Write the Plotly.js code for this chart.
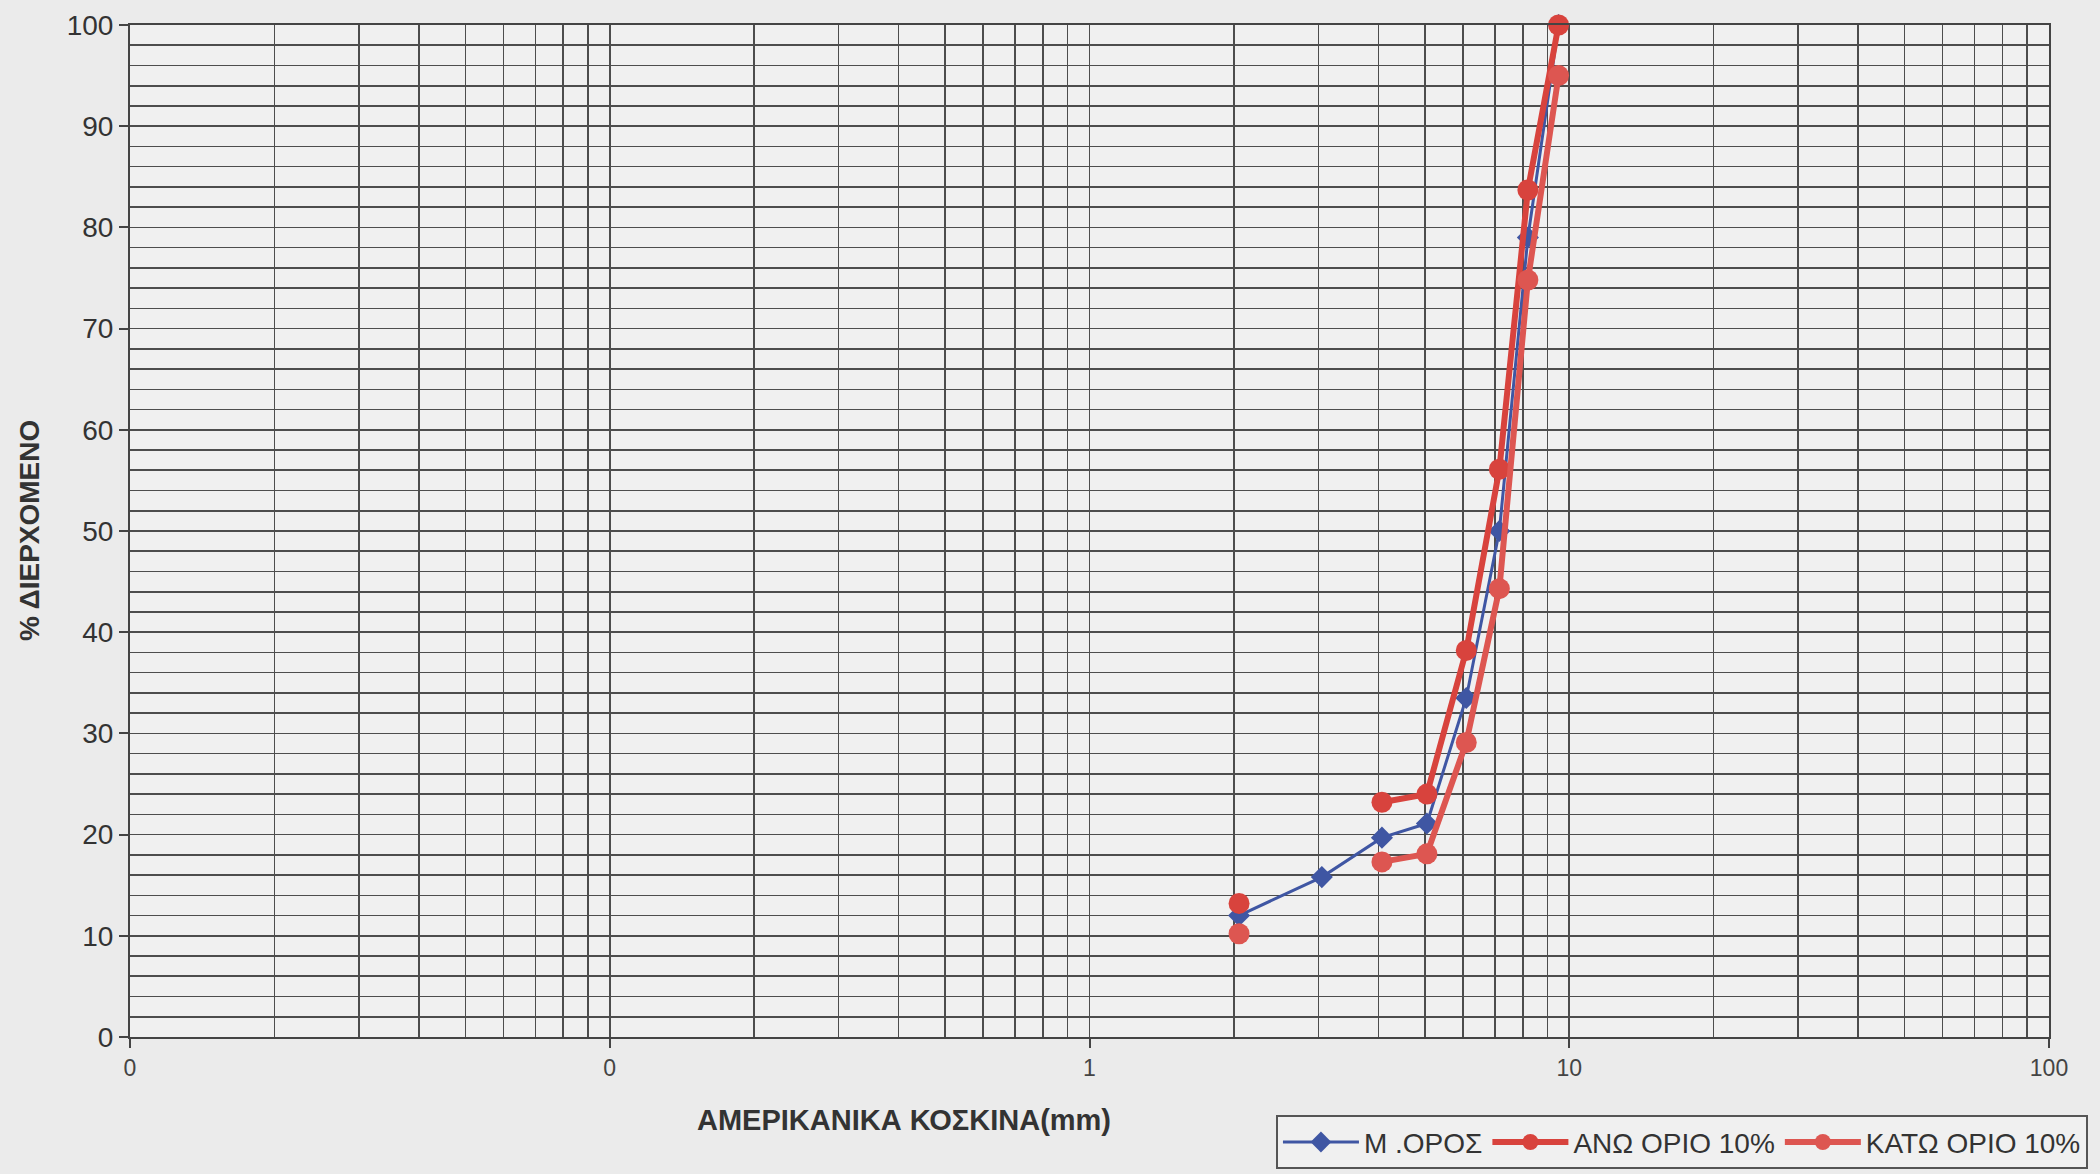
<!DOCTYPE html>
<html>
<head>
<meta charset="utf-8">
<script src="https://cdn.plot.ly/plotly-3.0.1.min.js"></script>
<style>
  html, body { margin: 0; padding: 0; background: #ebebeb; }
  #chart { width: 2100px; height: 1174px; }
</style>
</head>
<body>
<div id="chart"></div>
<script>
// ---- data ----
const sieveSize = [2.05, 3.05, 4.07, 5.05, 6.1, 7.15, 8.2, 9.5];     // mm
const meanPassing  = [12.0, 15.8, 19.7, 21.1, 33.5, 50.0, 79.0, 100];
const upperPassing = [13.2, null, 23.2, 24.0, 38.2, 56.1, 83.7, 100];
const lowerPassing = [10.2, null, 17.3, 18.1, 29.1, 44.3, 74.8, 95.0];

const seriesNames = ["Μ .ΟΡΟΣ", "ΑΝΩ ΟΡΙΟ 10%", "ΚΑΤΩ ΟΡΙΟ 10%"];
const xTickVals = [0.01, 0.1, 1, 10, 100];
const xTickText = ["0", "0", "1", "10", "100"];
const xTitle = "ΑΜΕΡΙΚΑΝΙΚΑ ΚΟΣΚΙΝΑ(mm)";
const yTitle = "% ΔΙΕΡΧΟΜΕΝΟ";

// minor log gridlines 2..9 in each decade
const minorX = [];
for (let d = -2; d <= 1; d++) {
  for (let k = 2; k <= 9; k++) minorX.push(k * Math.pow(10, d));
}

const FONT = "Liberation Sans, Arial, sans-serif";
const GRID = "#4d4d4d";

const traces = [
  {
    x: sieveSize, y: meanPassing, name: seriesNames[0], type: "scatter", mode: "lines+markers",
    line: { color: "#3f56a3", width: 3 },
    marker: { symbol: "diamond", size: 17, color: "#3f56a3" },
    cliponaxis: false
  },
  {
    x: sieveSize, y: upperPassing, name: seriesNames[1], type: "scatter", mode: "lines+markers",
    connectgaps: false,
    line: { color: "#d8433d", width: 6 },
    marker: { symbol: "circle", size: 21, color: "#d8433d" },
    cliponaxis: false
  },
  {
    x: sieveSize, y: lowerPassing, name: seriesNames[2], type: "scatter", mode: "lines+markers",
    connectgaps: false,
    line: { color: "#dd5651", width: 6 },
    marker: { symbol: "circle", size: 21, color: "#dd5651" },
    cliponaxis: false
  }
];

const layout = {
  width: 2100, height: 1174,
  margin: { l: 130, r: 51, t: 25, b: 137 },
  paper_bgcolor: "#ebebeb",
  plot_bgcolor: "#f0f0f0",
  font: { family: FONT, size: 24, color: "#333" },
  showlegend: true,
  xaxis: {
    type: "log",
    range: [-2, 2],
    tickmode: "array", tickvals: xTickVals, ticktext: xTickText,
    ticks: "outside", ticklen: 9, tickwidth: 2, tickcolor: "#444",
    tickfont: { family: FONT, size: 23, color: "#444" },
    showgrid: true, gridcolor: GRID, gridwidth: 1.6,
    minor: { tickmode: "array", tickvals: minorX, showgrid: true, gridcolor: GRID, gridwidth: 1.6, ticklen: 0 },
    showline: true, linecolor: "#444", linewidth: 2, mirror: true,
    zeroline: false, fixedrange: true
  },
  yaxis: {
    range: [0, 100],
    tickmode: "linear", tick0: 0, dtick: 10,
    ticks: "outside", ticklen: 9, tickwidth: 2, tickcolor: "#444",
    tickfont: { family: FONT, size: 28, color: "#333" },
    showgrid: true, gridcolor: GRID, gridwidth: 1.6,
    minor: { dtick: 2, showgrid: true, gridcolor: GRID, gridwidth: 1.6, ticklen: 0 },
    showline: true, linecolor: "#444", linewidth: 2, mirror: true,
    zeroline: false, fixedrange: true
  },
  legend: {
    orientation: "h",
    xref: "container", yref: "container",
    x: 0.6076, xanchor: "left",
    y: 0.004, yanchor: "bottom",
    bgcolor: "#f0f0f0", bordercolor: "#555", borderwidth: 2,
    font: { family: FONT, size: 28, color: "#333" },
    itemwidth: 76, tracegroupgap: 0
  },
  annotations: [
    {
      text: "<b>" + xTitle + "</b>", xref: "paper", yref: "paper",
      x: 0.4033, y: -0.082, xanchor: "center", yanchor: "middle",
      showarrow: false, font: { family: FONT, size: 29, color: "#333" }
    },
    {
      text: "<b>" + yTitle + "</b>", xref: "paper", yref: "paper",
      x: -0.0526, y: 0.5, xanchor: "center", yanchor: "middle", textangle: -90,
      showarrow: false, font: { family: FONT, size: 28, color: "#333" }
    }
  ]
};

Plotly.newPlot("chart", traces, layout, { displayModeBar: false, staticPlot: true });
</script>
</body>
</html>
